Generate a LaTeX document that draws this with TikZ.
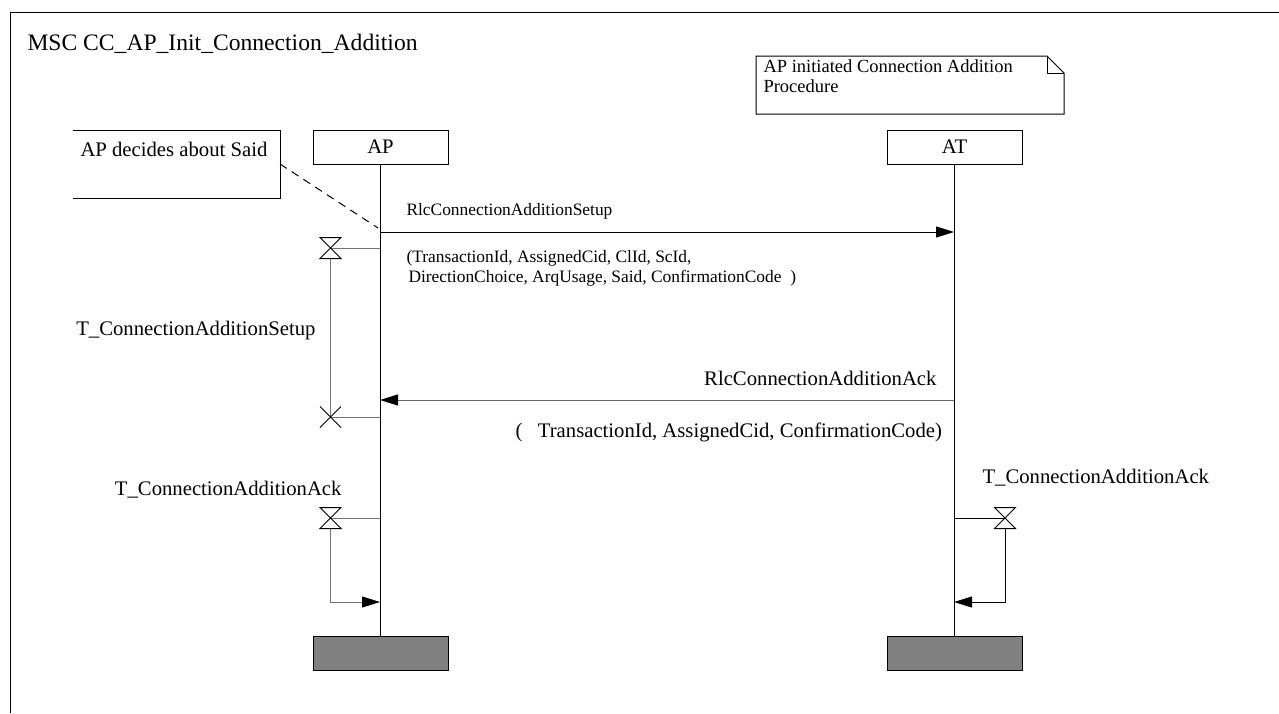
\documentclass[tikz,border=0pt]{standalone}
\usepackage{fontspec}
\setmainfont{Liberation Serif}
\usepackage{tikz}
\usetikzlibrary{positioning,arrows.meta}

\begin{document}
\begin{tikzpicture}[x=0.5pt, y=-0.5pt, line width=0.5pt,
    every node/.style={inner sep=0pt},
    instance/.style={draw, minimum width=67.5pt, minimum height=17pt},
    stopbox/.style={draw, fill=black!50, minimum width=67.5pt, minimum height=17pt},
    msg/.style={-{Triangle[length=9pt, width=5.5pt, color=black]}},
    tline/.style={draw=black!55},
    lbl/.style={font=\fontsize{10.35}{12.5}\selectfont},
    smlbl/.style={font=\fontsize{8.7}{10}\selectfont}]
    \useasboundingbox (0,0) rectangle (1279,713);

    % frame and title
    \draw (10,713) -- (10,12) -- (1279,12);
    \node[anchor=base west, font=\fontsize{11.8}{14}\selectfont] (title) at (27,50) {MSC CC\_AP\_Init\_Connection\_Addition};

    % note
    \node[anchor=north west, minimum width=153.5pt, minimum height=28.5pt] (note) at (756,56) {};
    \draw (note.south west) -- (note.north west) -- ([xshift=-8.5pt]note.north east) -- ([yshift=-8.5pt]note.north east) -- (note.south east) -- cycle;
    \draw ([xshift=-8.5pt]note.north east) -- ++(0,17) -- ([yshift=-8.5pt]note.north east);
    \node[anchor=base west, align=left, font=\fontsize{9.25}{10}\selectfont] (notetext) at (763,92) {AP initiated Connection Addition\\Procedure};

    % instances
    \node[instance, lbl] (ap) at (380.5,147) {AP};
    \node[instance, lbl] (at) at (954.5,147) {AT};
    \node[stopbox] (apend) at (380.5,653) {};
    \node[stopbox] (atend) at (954.5,653) {};
    \draw (ap) -- (apend);
    \draw (at) -- (atend);

    % comment on AP
    \node[anchor=north west, minimum width=103pt, minimum height=33.5pt] (saidbox) at (73,130) {};
    \draw (saidbox.north west) -- (saidbox.north east) -- (saidbox.south east) -- (saidbox.south west);
    \node[lbl, anchor=base west] (said) at (80,156) {AP decides about Said};
    \coordinate (saidref) at (378,228);
    \draw[dashed, dash pattern=on 4pt off 3pt] (saidbox.east) -- (saidref);

    % messages
    \coordinate (setupA) at (380,232);
    \coordinate (setupB) at (954,232);
    \draw[msg] (setupA) -- (setupB);
    \node[smlbl, anchor=base west] (setup) at (406,215) {RlcConnectionAdditionSetup};
    \node[smlbl, anchor=base west, align=left] (setuppar) at (406,282)
        {(TransactionId, AssignedCid, ClId, ScId,\\\hspace*{1pt}DirectionChoice, ArqUsage, Said, ConfirmationCode\ \ )};

    \coordinate (ackA) at (954,400);
    \coordinate (ackB) at (380,400);
    \draw[msg, draw=black!60] (ackA) -- (ackB);
    \node[lbl, anchor=base east] (ack) at (937,385) {RlcConnectionAdditionAck};
    \node[lbl, anchor=base west] (ackpar) at (515,437) {(\ \ \ TransactionId, AssignedCid, ConfirmationCode)};

    % timer T_ConnectionAdditionSetup
    \coordinate (tsset) at (330.5,248);
    \coordinate (tsout) at (330.5,417);
    \draw[tline] (380,248) -- (tsset);
    \draw[tline] (330.5,258.5) -- (tsout) -- (380,417);
    \draw[fill=white] (tsset) ++(-10.5,-10.5) -- ++(21,0) -- ++(-21,21) -- ++(21,0) -- cycle;
    \draw (tsout) ++(-10.5,-10.5) -- ++(21,21) ++(0,-21) -- ++(-21,21);
    \node[lbl, anchor=base east] (tslbl) at (316,335) {T\_ConnectionAdditionSetup};

    % timer T_ConnectionAdditionAck on AP
    \coordinate (taset) at (330.5,518);
    \coordinate (taend) at (330.5,602);
    \draw[tline] (380,518) -- (taset);
    \draw[tline, msg] (330.5,528.5) -- (taend) -- (380,602);
    \draw[fill=white] (taset) ++(-10.5,-10.5) -- ++(21,0) -- ++(-21,21) -- ++(21,0) -- cycle;
    \node[lbl, anchor=base east] (talbl) at (342,495) {T\_ConnectionAdditionAck};

    % timer T_ConnectionAdditionAck on AT
    \coordinate (tbset) at (1005,518);
    \coordinate (tbend) at (1005,602);
    \draw (954,518) -- (tbset);
    \draw[msg] (1005,528.5) -- (tbend) -- (954,602);
    \draw[fill=white] (tbset) ++(-10.5,-10.5) -- ++(21,0) -- ++(-21,21) -- ++(21,0) -- cycle;
    \node[lbl, anchor=base west] (tblbl) at (982,483) {T\_ConnectionAdditionAck};
\end{tikzpicture}
\end{document}
